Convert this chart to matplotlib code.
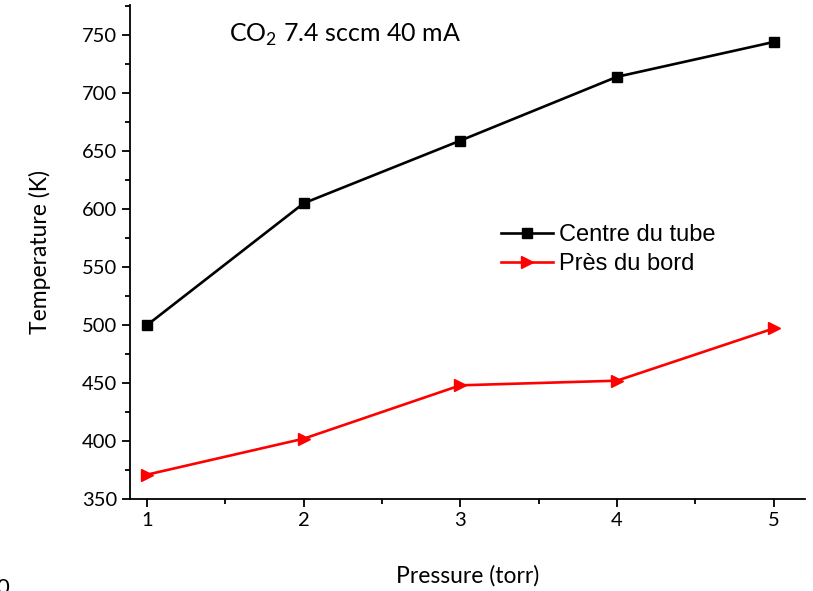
import matplotlib
matplotlib.use("Agg")
import matplotlib.pyplot as plt

# pressure in torr and measured temperatures
pressure = [1, 2, 3, 4, 5]
temp_centre = [500, 605, 659, 714, 744]
temp_bord = [371, 402, 448, 452, 497]
legend_labels = ['Centre du tube', 'Près du bord']

plt.rcParams['font.family'] = ['Lato', 'DejaVu Sans']
plt.rcParams['mathtext.fontset'] = 'custom'
plt.rcParams['mathtext.rm'] = 'Lato'

fig = plt.figure(figsize=(8.13, 5.91), dpi=100)
ax = fig.add_axes([0.16, 0.1557, 0.83, 0.836])

ax.plot(pressure, temp_centre, color='black', marker='s', markersize=7,
        linewidth=1.9, label=legend_labels[0])
ax.plot(pressure, temp_bord, color='red', marker='>', markersize=9,
        linewidth=1.9, label=legend_labels[1])

ax.set_xlim(0.891, 5.2)
ax.set_ylim(350, 776)
ax.set_xticks([1, 2, 3, 4, 5])
ax.set_xticks([1.5, 2.5, 3.5, 4.5], minor=True)
ax.set_yticks(range(350, 751, 50))
ax.set_yticks(range(375, 776, 50), minor=True)
ax.tick_params(which='major', direction='out', length=6, width=1.3, labelsize=14.5)
ax.tick_params(which='minor', direction='out', length=3.5, width=1.3)
for side in ['top', 'right']:
    ax.spines[side].set_visible(False)
for side in ['left', 'bottom']:
    ax.spines[side].set_linewidth(1.3)

ax.set_xlabel('Pressure (torr)', fontsize=16.5, labelpad=26)
ax.set_ylabel('Temperature (K)', fontsize=16.5, labelpad=22)

ax.text(1.52, 750, 'CO$_2$ 7.4 sccm 40 mA', fontsize=18, va='center')

ax.legend(loc='upper left', bbox_to_anchor=(0.532, 0.58), frameon=False,
          prop={'family': 'Liberation Sans', 'size': 17},
          handlelength=2.2, handletextpad=0.25, labelspacing=0.3, borderpad=0)

# stray label clipped at the figure edge
fig.text(-0.004, -0.012, '0', fontsize=16, ha='left', va='bottom')

fig.savefig('out.png', dpi=100)
